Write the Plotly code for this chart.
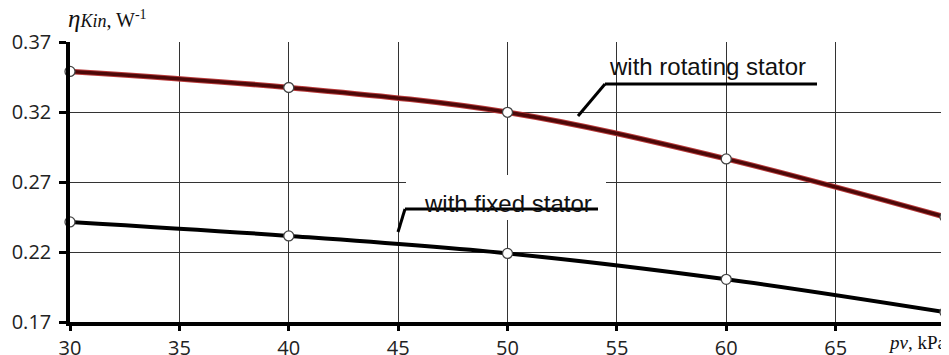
import plotly.graph_objects as go

# ---- data ----
pv_kpa = [30, 40, 50, 60, 70]
eta_rotating = [0.349, 0.3375, 0.3198, 0.2865, 0.245]
eta_fixed = [0.2415, 0.2315, 0.219, 0.2005, 0.177]
x_ticks = [30, 35, 40, 45, 50, 55, 60, 65, 70]
x_tick_text = ["30", "35", "40", "45", "50", "55", "60", "65", ""]
y_ticks = [0.17, 0.22, 0.27, 0.32, 0.37]
y_tick_text = ["0.17", "0.22", "0.27", "0.32", "0.37"]

# page body has an 8px default margin -> compensate
OFF = 8
W, H = 949 - OFF, 355 - OFF
ML, MR, MT, MB = 70 - OFF, 4, 42 - OFF, 33
PW, PH = W - ML - MR, H - MT - MB
X0_IMG, YB_IMG = 70, 322  # plot-area left / bottom in page pixels


def px(xp):
    return (xp - X0_IMG) / PW


def py(yp):
    return (YB_IMG - yp) / PH


fig = go.Figure()

marker = dict(size=10, color="white", line=dict(color="#444444", width=1.3))

# rotating stator: reddish halo + dark maroon core
fig.add_trace(go.Scatter(x=pv_kpa, y=eta_rotating, mode="lines",
                         line=dict(color="#b83a3a", width=5.5, shape="spline"),
                         hoverinfo="skip", showlegend=False, cliponaxis=False))
fig.add_trace(go.Scatter(x=pv_kpa, y=eta_rotating, mode="lines+markers",
                         line=dict(color="#4e0808", width=3.5, shape="spline"),
                         marker=marker, showlegend=False, cliponaxis=False))
fig.add_trace(go.Scatter(x=pv_kpa, y=eta_fixed, mode="lines+markers",
                         line=dict(color="#000000", width=4, shape="spline"),
                         marker=marker, showlegend=False, cliponaxis=False))

tick_font = dict(family="Open Sans", size=20, color="#222222")

fig.update_xaxes(range=[30, 70], tickvals=x_ticks, ticktext=x_tick_text,
                 showgrid=True, gridcolor="#333333", gridwidth=1.4,
                 showline=True, linecolor="black", linewidth=3.5,
                 ticks="outside", ticklen=5, tickwidth=3, tickcolor="black",
                 tickfont=tick_font, zeroline=False, automargin=False)
fig.update_yaxes(range=[0.17, 0.37], tickvals=y_ticks, ticktext=y_tick_text,
                 showgrid=True, gridcolor="#333333", gridwidth=1.4,
                 showline=True, linecolor="black", linewidth=3.5,
                 ticks="outside", ticklen=7, tickwidth=3, tickcolor="black",
                 tickfont=tick_font, zeroline=False, ticklabelstandoff=4,
                 automargin=False)

shapes = [
    # white box behind "with fixed stator"
    dict(type="rect", xref="paper", yref="paper",
         x0=px(406), x1=px(606), y0=py(220), y1=py(175),
         fillcolor="white", line=dict(width=0), layer="above"),
    # rotating leader
    dict(type="line", xref="paper", yref="paper",
         x0=px(578), y0=py(116), x1=px(605), y1=py(84),
         line=dict(color="black", width=3)),
    dict(type="line", xref="paper", yref="paper",
         x0=px(605), y0=py(84), x1=px(817), y1=py(84),
         line=dict(color="black", width=3)),
    # fixed leader
    dict(type="line", xref="paper", yref="paper",
         x0=px(398), y0=py(232), x1=px(405), y1=py(209),
         line=dict(color="black", width=3)),
]

annotations = [
    dict(text="with rotating stator", xref="paper", yref="paper",
         x=px(707), y=py(66), xanchor="center", yanchor="middle",
         showarrow=False, font=dict(family="Liberation Sans", size=24, color="#111111")),
    dict(text="with fixed stator", xref="paper", yref="paper",
         x=px(508), y=py(204), xanchor="center", yanchor="middle",
         showarrow=False, font=dict(family="Liberation Sans", size=24, color="#111111")),
    dict(text="<i>pv</i>, kPa", xref="paper", yref="paper",
         x=px(949), y=py(342), xanchor="right", yanchor="middle",
         showarrow=False, font=dict(family="Liberation Serif", size=19, color="#111111")),
    dict(text="<span style='font-size:25px'><i>η</i></span><span style='font-size:18px'><i>Kin</i></span>, W<sup>-1</sup>",
         xref="paper", yref="paper", x=px(66), y=py(18), xanchor="left", yanchor="middle",
         showarrow=False, font=dict(family="Liberation Serif", size=20, color="#111111")),
]

for s in shapes:
    fig.add_shape(s)
fig.update_layout(width=W, height=H, margin=dict(l=ML, r=MR, t=MT, b=MB),
                  paper_bgcolor="white", plot_bgcolor="white",
                  annotations=annotations, showlegend=False)
# fixed-stator underline drawn on top of the text
fig.add_shape(type="line", xref="paper", yref="paper",
              x0=px(405), y0=py(209), x1=px(598), y1=py(209),
              line=dict(color="black", width=3))

fig.write_html("out.html")
